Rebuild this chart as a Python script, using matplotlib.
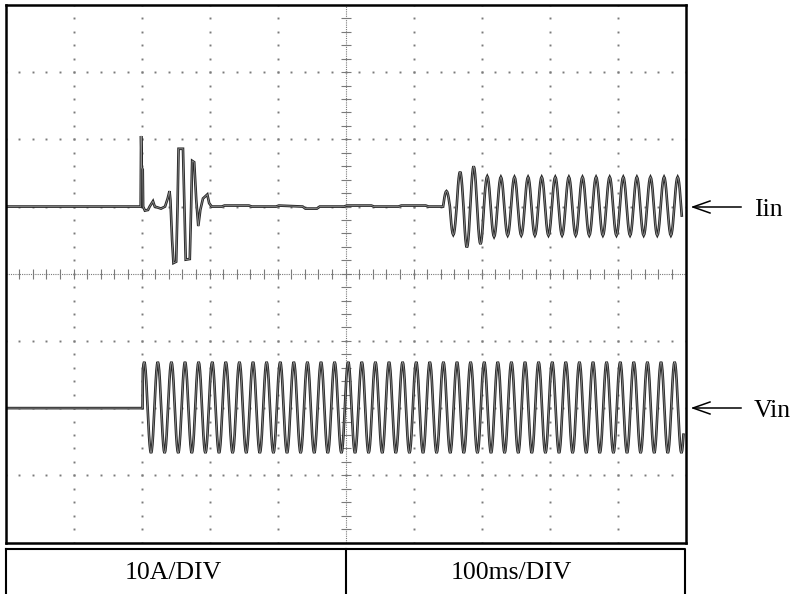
import numpy as np
import matplotlib.pyplot as plt

plt.rcParams['font.family'] = ['Liberation Serif', 'DejaVu Serif']

# scope screen: 100 ms/div over 10 div, 8 vertical div
T_END = 1000.0

# one half cycle of the 50 Hz waveform, sampled every 1 ms (normalised)
lobe = [0.0, 0.31, 0.59, 0.81, 0.95, 1.0, 0.95, 0.81, 0.59, 0.31]

# Vin trace (div, zero line 2 div below centre)
vin_offset = -2.0
vin_on = 201.5
vin_first_peak = 204.0
vin_end = 997.5
vin_half_peaks = [0.69, -0.67] * 40

# Iin trace (div, zero line 1 div above centre)
iin_offset = 1.0
# inrush burst right after switch-on (ms, div)
burst_t = [0, 198.8, 199.4, 200.3, 201.8, 202.4, 205, 209.6, 212, 216.9, 219.5,
           228.7, 234.6, 238.5, 241.2, 242.5, 245, 247, 251, 253, 254.5, 261,
           263, 265, 271, 273, 274.5, 277.5, 280.5, 283.5, 286.5, 290.4, 296.8,
           299.5, 303.2]
burst_y = [0, 0, 1.05, 0.58, 0.55, 0.0, -0.06, -0.05, 0.0, 0.08, 0.0,
           -0.03, 0.0, 0.12, 0.23, 0.1, -0.5, -0.84, -0.82, 0.0, 0.86, 0.86,
           0.0, -0.79, -0.78, 0.0, 0.68, 0.66, 0.1, -0.29, -0.05, 0.12, 0.18,
           0.05, 0.0]
# quiet part before the converter starts
base_t = [318, 322, 358, 362, 398, 402, 437, 441, 458, 462, 498, 502,
          538, 542, 578, 582, 618, 622, 643.5]
base_y = [0.0, 0.015, 0.015, 0.0, 0.0, 0.015, 0.0, -0.03, -0.03, 0.0, 0.0, 0.015,
          0.015, 0.0, 0.0, 0.015, 0.015, 0.0, 0.0]
# converter running: extremum of each half cycle (div)
iin_first_peak = 648.5
iin_end = 994.5
iin_half_peaks = [0.23, -0.42, 0.52, -0.61, 0.60, -0.56, 0.45, -0.45,
                  0.44, -0.43, 0.44, -0.43, 0.44, -0.43, 0.44, -0.43,
                  0.44, -0.43, 0.44, -0.43, 0.44, -0.43, 0.44, -0.43,
                  0.44, -0.43, 0.44, -0.43, 0.44, -0.43, 0.44, -0.43,
                  0.44, -0.43, 0.44, -0.43]

labels = ['10A/DIV', '100ms/DIV']


def halfCycles(first_peak, peaks):
    t, y = [], []
    for k, a in enumerate(peaks):
        for i, s in enumerate(lobe):
            t.append(first_peak - 5 + 10 * k + i)
            y.append(a * s)
    return np.array(t, dtype=float), np.array(y)


# Vin
vt, vy = halfCycles(vin_first_peak, vin_half_peaks)
keep = (vt > vin_on) & (vt <= vin_end)
vin_t = np.concatenate([[0, vin_on], vt[keep]])
vin_y = np.concatenate([[0, 0], vy[keep]]) + vin_offset

# Iin
it, iy = halfCycles(iin_first_peak, iin_half_peaks)
keep = it <= iin_end
iin_t = np.concatenate([burst_t, base_t, it[keep]])
iin_y = np.concatenate([burst_y, base_y, iy[keep]]) + iin_offset

fig = plt.figure(figsize=(7.94, 5.94), dpi=100)
W, H = 794, 594
x0, x1, ytop, ybot = 5.5, 685.5, 5.0, 542.5
ax = fig.add_axes([x0 / W, 1 - ybot / H, (x1 - x0) / W, (ybot - ytop) / H])
ax.set_xlim(0, T_END)
ax.set_ylim(-4, 4)
ax.set_xticks([])
ax.set_yticks([])
for s in ax.spines.values():
    s.set_linewidth(1.8)

# dotted graticule
dot = dict(ls='none', marker='s', ms=1.4, color='#7a7a7a', mew=0)
ydots = np.arange(-4, 4.01, 0.2)
xdots = np.arange(0, T_END + 1, 20)
for xv in range(100, 1000, 100):
    if xv != 500:
        ax.plot(np.full(len(ydots), xv), ydots, **dot)
for yv in [-3, -2, -1, 1, 2, 3]:
    ax.plot(xdots, np.full(len(xdots), yv), **dot)
# centre crosshair with small ticks
ax.axhline(0, color='#7a7a7a', lw=0.8, ls=(0, (1, 1)))
ax.axvline(500, color='#7a7a7a', lw=0.8, ls=(0, (1, 1)))
ax.plot(xdots, np.zeros(len(xdots)), ls='none', marker='|', ms=7, mew=0.8, color='#7a7a7a')
ax.plot(np.full(len(ydots), 500), ydots, ls='none', marker='_', ms=7, mew=0.8, color='#7a7a7a')

# traces: dark outline with a lighter core, like the scope print
for tt, yy in [(iin_t, iin_y), (vin_t, vin_y)]:
    ax.plot(tt, yy, color='#262626', lw=1.9, solid_joinstyle='miter')
    ax.plot(tt, yy, color='#8c8c8c', lw=0.6)

# overlay in pixel units for the labels
ov = fig.add_axes([0, 0, 1, 1])
ov.set_xlim(0, W)
ov.set_ylim(H, 0)
ov.axis('off')
ov.patch.set_alpha(0)

ov.plot([5.5, 685, 685], [549, 549, 600], color='black', lw=1.5)
ov.plot([5.5, 5.5], [549, 600], color='black', lw=1.5)
ov.plot([346, 346], [549, 600], color='black', lw=1.5)
ov.text(173, 573, labels[0], fontsize=18.5, ha='center', va='center')
ov.text(511, 573, labels[1], fontsize=18.5, ha='center', va='center')

for yy, name in [(207, 'Iin'), (408, 'Vin')]:
    ov.plot([693, 741], [yy, yy], color='black', lw=1.1)
    ov.plot([710, 693, 710], [yy - 6, yy, yy + 6], color='black', lw=1.1)
    ov.text(754, yy + 9, name, fontsize=18.5, ha='left', va='baseline')

fig.savefig('out.png', dpi=100)
